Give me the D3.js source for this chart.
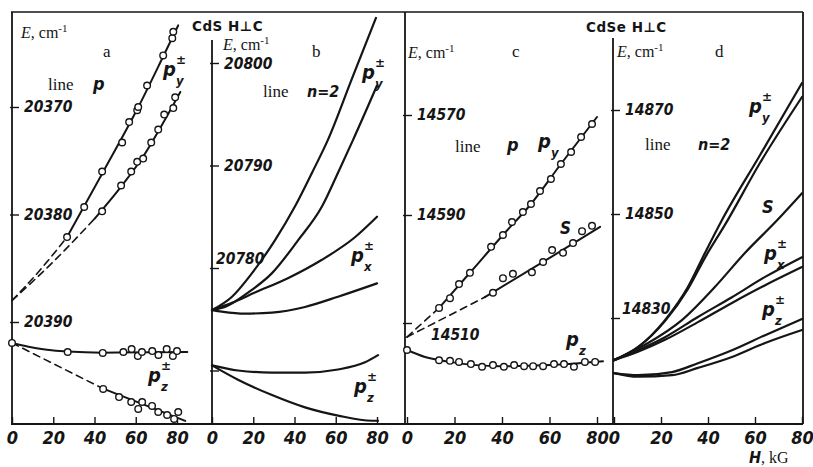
<!DOCTYPE html>
<html><head><meta charset="utf-8">
<script src="https://cdn.jsdelivr.net/npm/d3@7"></script>
<style>
body{margin:0;background:#fff;}
svg{display:block;}
</style></head><body>
<svg id="c" width="813" height="467"></svg>
<script>
// ---------------- DATA ----------------
const xTicks = [0, 20, 40, 60, 80];

const aYTicks = [20370, 20380, 20390];
const aYLabels = ["20370", "20380", "20390"];
const bYTicks = [20800, 20790, 20780, 20770];
const bYLabels = ["20800", "20790", "20780", ""];
const cYTicks = [14570, 14550, 14530];
const cYLabels = ["14570", "14590", "14510"];
const dYTicks = [14870, 14850, 14830];
const dYLabels = ["14870", "14850", "14830"];

// Panel a (CdS, line p) -- points [H kG, E cm-1]
const aPyUpPts = [[26.7,20382.1],[35,20379.3],[43.7,20376.0],[53.4,20373.3],[56.8,20371.4],[60.7,20370.3],[61.2,20370.0],[65.5,20368.0],[73.3,20365.2],[77.7,20363.6],[78.2,20363.0]];
const aPyUpDash = [[0,20388.0],[13,20385.3],[26.7,20382.1]];
const aPyUpFit = [[26.7,20382.1],[43.7,20376.2],[61,20370.1],[73.3,20365.3],[80.6,20362.4]];
const aPyLowPts = [[43.7,20379.7],[52.9,20377.3],[57.8,20376.0],[60.7,20375.1],[63.6,20374.8],[67.5,20373.3],[70.9,20372.1],[73.8,20370.7],[78.2,20370.1],[79.1,20369.1]];
const aPyLowDash = [[0,20388.0],[20,20384.4],[40,20380.4]];
const aPyLowFit = [[40,20380.4],[52.9,20377.4],[63.6,20374.6],[73.8,20371.3],[81.6,20368.6]];
const aPzUpPts = [[0,20391.95],[27,20392.79],[44,20392.88],[54,20392.79],[58,20392.51],[61,20393.16],[63,20392.79],[68,20392.70],[71,20393.07],[75,20392.51],[78,20393.16],[80,20392.70]];
const aPzUpFit = [[0,20391.95],[8,20392.3],[16,20392.55],[27,20392.75],[44,20392.85],[85,20392.8]];
const aPzLowPts = [[44.2,20396.23],[51.9,20396.98],[57.8,20397.44],[61.2,20398.09],[63.1,20397.44],[67.9,20397.81],[70.9,20398.37],[75.2,20398.65],[78.6,20399.02],[80.6,20398.37]];
const aPzLowDash = [[0,20391.95],[44.2,20396.2]];
const aPzLowFit = [[44.2,20396.2],[84,20399.2]];

// Panel b (CdS, line n=2) -- curves
const bPy1 = [[0,20775.9],[9.7,20777.2],[19.4,20779.5],[30.5,20782.7],[40.2,20786.0],[48.5,20789.3],[56.2,20792.5],[67.9,20798.5],[79.5,20804.4]];
const bPy2 = [[0,20775.9],[6.3,20776.2],[17.5,20777.6],[29.1,20779.5],[41.7,20782.7],[53.3,20786.0],[61.1,20789.3],[68.4,20792.5],[80,20797.8]];
const bPx1 = [[0,20775.9],[9.7,20776.6],[20.8,20777.6],[36.8,20779.0],[53.3,20780.8],[69.3,20783.0],[80,20785.0]];
const bPx2 = [[0,20775.9],[4.8,20775.75],[16,20775.55],[29.1,20775.65],[45.1,20776.2],[61.1,20777.2],[80,20778.5]];
const bPz1 = [[0,20770.5],[12.6,20770.0],[29.1,20769.8],[45.1,20769.8],[61.1,20770.1],[74.2,20770.8],[80.5,20771.5]];
const bPz2 = [[0,20770.5],[12.6,20769.1],[29.1,20767.6],[45.1,20766.4],[61.1,20765.6],[77.6,20765.1],[80.5,20765.1]];

// Panel c (CdSe, line p)
const cPyPts = [[77.9,14568.2],[73.3,14565.6],[69.1,14562.6],[64.8,14560.2],[60.6,14557.2],[56.0,14554.8],[52.2,14552.2],[48.8,14550.6],[44.2,14548.7],[40.4,14546.3],[35.4,14544.1],[26.5,14539.3],[21.9,14537.2],[18.1,14534.6],[13.5,14532.8]];
const cPyDash = [[0,14527.4],[13.5,14532.8]];
const cPyFit = [[13.5,14532.8],[26.5,14539.3],[40.4,14546.3],[52.2,14552.2],[64.8,14560.2],[80,14569.6]];
const cSPts = [[77.9,14548.0],[73.7,14547.0],[69.9,14544.8],[65.7,14543.0],[61.1,14543.5],[57.3,14541.3],[52.6,14539.4],[44.6,14539.1],[40.4,14538.3],[36.2,14535.6]];
const cSDash = [[0,14527.4],[16,14531.0],[32.8,14534.8]];
const cSFit = [[32.8,14534.8],[57.3,14541.3],[81.3,14547.8]];
const cPzPts = [[0,14525.0],[13.5,14523.1],[18.1,14523.0],[21.9,14522.8],[26.9,14522.4],[31.6,14521.9],[36.2,14522.2],[40.8,14521.9],[45.1,14522.2],[49.3,14522.0],[53.1,14522.0],[57.3,14522.0],[61.9,14522.4],[66.1,14522.4],[70.3,14521.9],[74.9,14522.8],[79.2,14522.8]];
const cPzFit = [[0,14525.0],[7.6,14523.7],[18.1,14522.8],[39.2,14522.0],[60.2,14522.2],[82.5,14522.9]];

// Panel d (CdSe, line n=2)
const dPy1 = [[0,14821.9],[10.2,14824.4],[21.7,14829.6],[31.5,14836.0],[38.7,14842.5],[45.9,14848.8],[62.1,14861.3],[80,14875.2]];
const dPy2 = [[0,14821.9],[10.2,14824.4],[21.7,14829.4],[31.5,14835.6],[39.1,14841.9],[47.2,14847.9],[62.1,14859.8],[80,14872.5]];
const dS = [[0,14821.9],[4.7,14822.9],[14.5,14825.2],[28.9,14829.6],[43,14836.0],[55.7,14842.5],[69.4,14848.8],[80,14854.0]];
const dPx1 = [[0,14821.9],[10.2,14823.8],[21.7,14826.3],[35.7,14830.2],[50.2,14834.0],[64.3,14837.9],[80,14841.7]];
const dPx2 = [[0,14821.9],[10.2,14823.5],[21.7,14825.8],[35.7,14829.2],[50.2,14832.9],[64.3,14836.3],[80,14839.8]];
const dPz1 = [[0,14819.4],[10.2,14819.0],[24.7,14819.6],[35.7,14821.3],[50.2,14823.8],[64.3,14826.7],[80,14829.8]];
const dPz2 = [[0,14819.4],[10.2,14818.7],[24.7,14819.0],[35.7,14820.4],[50.2,14822.5],[64.3,14825.2],[80,14827.7]];

// ---------------- LAYOUT / STYLE ----------------
const INK = "#151515";
const SANS_C = "'DejaVu Sans Condensed','DejaVu Sans',sans-serif";
const SANS = "'DejaVu Sans',sans-serif";
const SERIF = "'Liberation Serif','DejaVu Serif',serif";
const yBottom = 424, yTop = 12;

const svg = d3.select("#c");
const g = svg.append("g");

const panels = [
  {x:[12,177], yDom:[20370,20390], yRng:[107,322], ticks:aYTicks, labels:aYLabels, axisX:12, labOff:[[0,0],[0,0],[0,0]]},
  {x:[212,377], yDom:[20800,20780], yRng:[63,268], ticks:bYTicks, labels:bYLabels, axisX:212, labOff:[[0,1],[0,0],[-8,-9],[0,0]]},
  {x:[407,597], yDom:[14570,14550,14530], yRng:[115,215,323], ticks:cYTicks, labels:cYLabels, axisX:405, labOff:[[0,0],[0,0],[14,12]]},
  {x:[614,802], yDom:[14870,14830], yRng:[110,318], ticks:dYTicks, labels:dYLabels, axisX:613, labOff:[[0,0],[0,0],[-3,-9]]}
];
panels.forEach(p => {
  p.xs = d3.scaleLinear().domain([0,80]).range(p.x);
  p.ys = d3.scaleLinear().domain(p.yDom).range(p.yRng);
});

// frame
const frame = g.append("g").attr("stroke", INK).attr("fill","none");
frame.append("line").attr("x1",11).attr("x2",803).attr("y1",yTop).attr("y2",yTop).attr("stroke-width",1.6);
frame.append("line").attr("x1",11).attr("x2",803).attr("y1",yBottom).attr("y2",yBottom).attr("stroke-width",2);
[[12,yTop],[212,40],[405,yTop],[613,38],[803,yTop]].forEach(([x,y0]) => {
  frame.append("line").attr("x1",x).attr("x2",x).attr("y1",y0).attr("y2",yBottom).attr("stroke-width",1.8);
});

// axes
panels.forEach((p) => {
  const xa = d3.axisBottom(p.xs).tickValues(xTicks).tickSizeInner(-7).tickSizeOuter(0).tickPadding(7).tickFormat(d3.format("d"));
  const gx = g.append("g").attr("transform", `translate(0,${yBottom})`).call(xa);
  gx.select(".domain").remove();
  gx.selectAll(".tick line").attr("stroke", INK).attr("stroke-width", 1.4);
  gx.selectAll(".tick text").attr("fill", INK).style("font-family", SANS_C).style("font-size","18px")
    .style("font-style","italic").style("font-weight","bold");

  const ya = d3.axisRight(p.ys).tickValues(p.ticks).tickSize(7).tickPadding(5).tickFormat((d,i)=>p.labels[i]);
  const gy = g.append("g").attr("transform", `translate(${p.axisX},0)`).call(ya);
  gy.select(".domain").remove();
  gy.selectAll(".tick line").attr("stroke", INK).attr("stroke-width", 1.4).attr("x1",-2);
  gy.selectAll(".tick text").attr("fill", INK).style("font-family", SANS_C).style("font-size","15.5px")
    .style("font-style","italic").style("font-weight","bold")
    .attr("transform", (d,i)=>`translate(${p.labOff[i][0]},${p.labOff[i][1]})`);
});

// lines
function path(p, pts, opt={}) {
  const ln = d3.line().x(d=>p.xs(d[0])).y(d=>p.ys(d[1])).curve(d3.curveMonotoneX);
  g.append("path").datum(pts).attr("d", ln).attr("fill","none").attr("stroke", INK)
    .attr("stroke-width", opt.w || 2).attr("stroke-linecap","round")
    .attr("stroke-dasharray", opt.dash ? "7,5" : null);
}
function dots(p, pts) {
  g.append("g").selectAll("circle").data(pts).join("circle")
    .attr("cx", d=>p.xs(d[0])).attr("cy", d=>p.ys(d[1])).attr("r", 3.3)
    .attr("fill","#fff").attr("stroke", INK).attr("stroke-width", 1.4);
}
const [pa, pb, pc, pd] = panels;

path(pa, aPyUpDash, {dash:true, w:1.6}); path(pa, aPyUpFit);
path(pa, aPyLowDash, {dash:true, w:1.6}); path(pa, aPyLowFit);
path(pa, aPzUpFit);
path(pa, aPzLowDash, {dash:true, w:1.6}); path(pa, aPzLowFit);
dots(pa, aPyUpPts); dots(pa, aPyLowPts); dots(pa, aPzUpPts); dots(pa, aPzLowPts);

[bPy1,bPy2,bPx1,bPx2,bPz1,bPz2].forEach(s => path(pb, s, {w:2.2}));

path(pc, cPyDash, {dash:true, w:1.6}); path(pc, cPyFit);
path(pc, cSDash, {dash:true, w:1.6}); path(pc, cSFit);
path(pc, cPzFit);
dots(pc, cPyPts); dots(pc, cSPts); dots(pc, cPzPts);

[dPy1,dPy2,dS,dPx1,dPx2,dPz1,dPz2].forEach(s => path(pd, s, {w:2.2}));

// ---------------- TEXT ----------------
const T = g.append("g").attr("fill", INK);
function txt(x, y, s, o={}) {
  return T.append("text").attr("x",x).attr("y",y).text(s)
    .style("font-family", o.f || SERIF).style("font-size", (o.s||16)+"px")
    .style("font-style", o.i ? "italic" : "normal").style("font-weight", o.b ? "bold" : "normal")
    .style("letter-spacing", o.ls || null);
}
function eLabel(x, y) {
  const t = T.append("text").attr("x",x).attr("y",y).style("font-family",SERIF).style("font-size","16px");
  t.append("tspan").text("E").style("font-style","italic");
  t.append("tspan").text(", cm");
  t.append("tspan").text("-1").attr("dy",-6).style("font-size","11px");
}
// p with superscript / subscript to its right
function pLab(x, y, sub, sup) {
  txt(x, y, "p", {f:SANS_C, s:20, i:true, b:true});
  if (sup) txt(x+13, y-12, sup, {f:SANS, s:12, b:true});
  if (sub) txt(x+13, y+9, sub, {f:SANS_C, s:13, i:true, b:true});
}

txt(192, 31, "CdS H\u22A5C", {f:SANS, s:13.5, b:true, ls:"0.5px"});
txt(586, 32, "CdSe H\u22A5C", {f:SANS, s:13.5, b:true, ls:"0.5px"});

eLabel(21, 38); eLabel(223, 50); eLabel(408, 58); eLabel(617, 57);
txt(103, 57, "a", {s:17}); txt(312, 57, "b", {s:17}); txt(512, 57, "c", {s:17}); txt(715, 57, "d", {s:17});

txt(48, 90, "line", {s:17}); txt(93, 90, "p", {f:SANS_C, s:18, i:true, b:true});
txt(263, 97, "line", {s:17}); txt(307, 97, "n=2", {f:SANS_C, s:16, i:true, b:true});
txt(455, 152, "line", {s:17}); txt(507, 151, "p", {f:SANS_C, s:18, i:true, b:true});
txt(645, 150, "line", {s:17}); txt(698, 150, "n=2", {f:SANS_C, s:16, i:true, b:true});

pLab(163, 76, "y", "\u00B1");
pLab(148, 382, "z", "\u00B1");
pLab(362, 79, "y", "\u00B1");
pLab(351, 262, "x", "\u00B1");
pLab(354, 393, "z", "\u00B1");
pLab(538, 148, "y", null);
txt(560, 234, "S", {f:SANS_C, s:17, i:true, b:true});
pLab(566, 346, "z", null);
pLab(749, 113, "y", "\u00B1");
txt(762, 213, "S", {f:SANS_C, s:18, i:true, b:true});
pLab(764, 260, "x", "\u00B1");
pLab(762, 316, "z", "\u00B1");

const hl = T.append("text").attr("x",749).attr("y",463);
hl.append("tspan").text("H").style("font-family",SANS_C).style("font-size","16px").style("font-style","italic").style("font-weight","bold");
hl.append("tspan").text(", kG").style("font-family",SERIF).style("font-size","16px");
</script>
</body></html>
